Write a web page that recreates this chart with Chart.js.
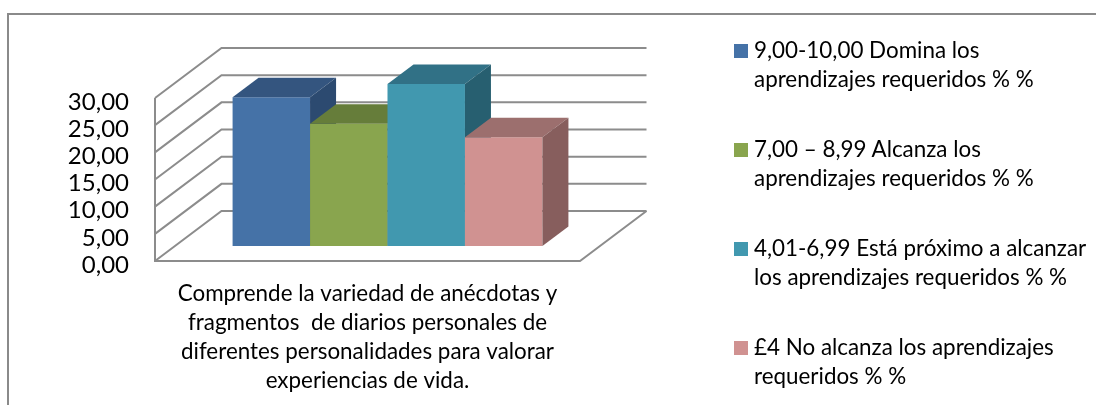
<!DOCTYPE html>
<html>
<head>
<meta charset="utf-8">
<script src="https://cdn.jsdelivr.net/npm/chart.js@4"></script>
<style>
  html, body { margin: 0; padding: 0; background: #fff; }
  #wrap { position: relative; width: 1096px; height: 405px; overflow: hidden; }
  #legend { position: absolute; left: 734px; top: 35px; font: 22.4px/29px Lato, sans-serif; color: #000; }
  #legend div { position: relative; padding-left: 20px; height: 58px; margin-bottom: 41px; white-space: nowrap; }
  #legend i { position: absolute; left: 0; top: 9px; width: 14px; height: 14px; }
</style>
</head>
<body>
<div id="wrap">
  <canvas id="chart" width="1096" height="405"></canvas>
  <div id="legend"></div>
</div>
<script>
const categories = [[
  'Comprende la variedad de anécdotas y',
  'fragmentos  de diarios personales de',
  'diferentes personalidades para valorar',
  'experiencias de vida.'
]];
const seriesNames = [
  ['9,00-10,00 Domina los', 'aprendizajes requeridos % %'],
  ['7,00 – 8,99 Alcanza los', 'aprendizajes requeridos % %'],
  ['4,01-6,99 Está próximo a alcanzar', 'los aprendizajes requeridos % %'],
  ['£4 No alcanza los aprendizajes', 'requeridos % %']
];
const seriesValues = [27.4, 22.5, 29.8, 20.0];
const frontColors = ['#4572a7', '#89a54e', '#4198af', '#d09291'];
const topColors = ['#34557f', '#667d3a', '#317186', '#9c6f6e'];
const sideColors = ['#2c4a70', '#586d32', '#275f70', '#875e5d'];

const FONT = 'Lato, sans-serif';
const LINE = '#8c8c8c';
// depth of the floor, and how far in the bars stand
const DEPTH = { x: 66.5, y: -50 };
const BAR_OFFSET = { x: 20, y: -15 };
const BAR_DEPTH = { x: 26, y: -19.5 };

function poly(ctx, color, pts) {
  ctx.fillStyle = color;
  ctx.beginPath();
  pts.forEach((p, i) => i ? ctx.lineTo(p[0], p[1]) : ctx.moveTo(p[0], p[1]));
  ctx.closePath();
  ctx.fill();
}

const box3d = {
  id: 'box3d',
  beforeDraw(chart) {
    // outer frame, only top and left are inside the crop
    const ctx = chart.ctx;
    ctx.save();
    ctx.strokeStyle = '#8a8a8a';
    ctx.lineWidth = 2;
    ctx.beginPath();
    ctx.moveTo(8, 405);
    ctx.lineTo(8, 14);
    ctx.lineTo(1096, 14);
    ctx.stroke();
    ctx.restore();
  },
  beforeDatasetsDraw(chart) {
    const ctx = chart.ctx;
    const area = chart.chartArea;
    const y = chart.scales.y;

    ctx.save();
    ctx.strokeStyle = LINE;
    ctx.lineWidth = 2;
    y.ticks.forEach(t => {
      const py = y.getPixelForValue(t.value);
      ctx.beginPath();
      ctx.moveTo(area.left, py);
      ctx.lineTo(area.left + DEPTH.x, py + DEPTH.y);
      ctx.lineTo(area.right + DEPTH.x, py + DEPTH.y);
      ctx.stroke();
    });
    ctx.beginPath();
    ctx.moveTo(area.left, area.top);
    ctx.lineTo(area.left, area.bottom);
    ctx.lineTo(area.right, area.bottom);
    ctx.lineTo(area.right + DEPTH.x, area.bottom + DEPTH.y);
    ctx.stroke();
    ctx.restore();

    // left to right, so each bar covers the side of the one before it
    ctx.save();
    ctx.translate(BAR_OFFSET.x, BAR_OFFSET.y);
    chart.getSortedVisibleDatasetMetas().forEach((meta, i) => {
      meta.controller.draw();
      const bar = meta.data[0];
      const l = bar.x - bar.width / 2;
      const r = bar.x + bar.width / 2;
      const dx = BAR_DEPTH.x, dy = BAR_DEPTH.y;
      poly(ctx, topColors[i], [[l, bar.y], [r, bar.y], [r + dx, bar.y + dy], [l + dx, bar.y + dy]]);
      poly(ctx, sideColors[i], [[r, bar.y], [r + dx, bar.y + dy], [r + dx, bar.base + dy], [r, bar.base]]);
    });
    ctx.restore();
    return false;
  }
};

new Chart(document.getElementById('chart'), {
  type: 'bar',
  data: {
    labels: categories,
    datasets: seriesNames.map((name, i) => ({
      label: name.join(' '),
      data: [seriesValues[i]],
      backgroundColor: frontColors[i],
      borderWidth: 0,
      barPercentage: 1,
      categoryPercentage: 0.729
    }))
  },
  options: {
    responsive: false,
    animation: false,
    layout: { padding: { top: 98, right: 516, left: 0, bottom: 0 } },
    plugins: { legend: { display: false }, tooltip: { enabled: false } },
    scales: {
      x: {
        grid: { display: false },
        border: { display: false },
        afterFit(scale) { scale.height = 144; },
        ticks: {
          color: '#000',
          padding: 10,
          maxRotation: 0,
          minRotation: 0,
          font: { family: FONT, size: 22.4, lineHeight: 1.3 }
        }
      },
      y: {
        min: 0,
        max: 30,
        grid: { display: false },
        border: { display: false },
        afterFit(scale) { scale.width = 155; },
        ticks: {
          stepSize: 5,
          autoSkip: false,
          color: '#000',
          padding: 18,
          labelOffset: 4,
          font: { family: FONT, size: 24 },
          callback: v => v.toFixed(2).replace('.', ',')
        }
      }
    }
  },
  plugins: [box3d]
});

// legend next to the chart
const legend = document.getElementById('legend');
seriesNames.forEach((name, i) => {
  const row = document.createElement('div');
  const box = document.createElement('i');
  box.style.background = frontColors[i];
  row.appendChild(box);
  row.appendChild(document.createTextNode(name[0]));
  row.appendChild(document.createElement('br'));
  row.appendChild(document.createTextNode(name[1]));
  legend.appendChild(row);
});
</script>
</body>
</html>
